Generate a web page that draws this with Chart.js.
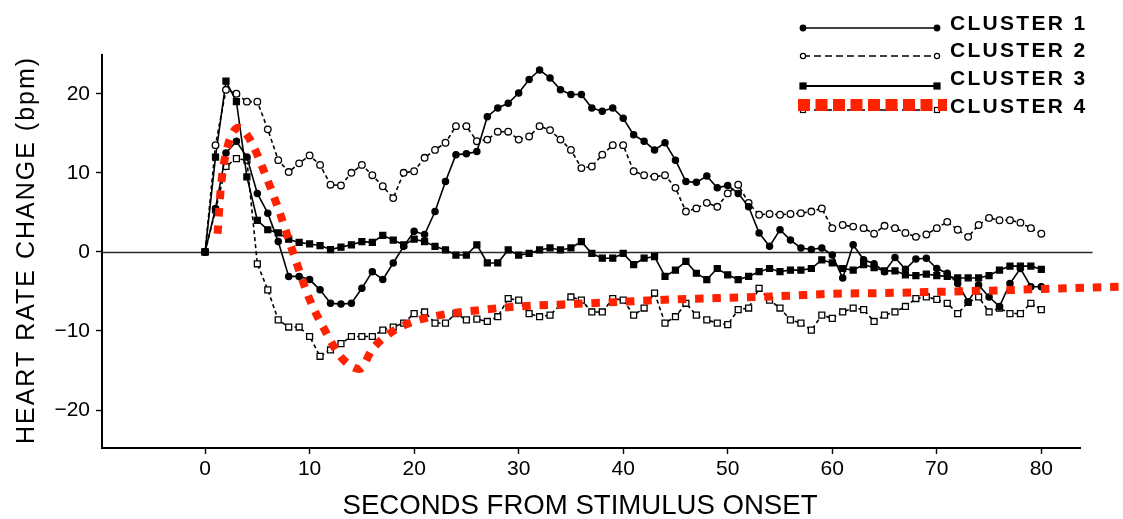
<!DOCTYPE html>
<html>
<head>
<meta charset="utf-8">
<script src="https://cdn.jsdelivr.net/npm/chart.js@4.4.1/dist/chart.umd.min.js"></script>
<style>
  html, body { margin: 0; padding: 0; background: #fff; }
  canvas { display: block; }
</style>
</head>
<body>
<canvas id="hr" width="1123" height="519"></canvas>
<script>
// Seconds after stimulus onset (one sample per second)
const SECONDS = [
  0, 1, 2, 3, 4, 5, 6, 7, 8, 9,
  10, 11, 12, 13, 14, 15, 16, 17, 18, 19,
  20, 21, 22, 23, 24, 25, 26, 27, 28, 29,
  30, 31, 32, 33, 34, 35, 36, 37, 38, 39,
  40, 41, 42, 43, 44, 45, 46, 47, 48, 49,
  50, 51, 52, 53, 54, 55, 56, 57, 58, 59,
  60, 61, 62, 63, 64, 65, 66, 67, 68, 69,
  70, 71, 72, 73, 74, 75, 76, 77, 78, 79,
  80
];

// Heart rate change (bpm) per cluster
const CLUSTER_1 = [
  0, 5.5, 12.5, 14, 12, 7.4, 4.9, 1.3, -3.1, -3.1,
  -3.5, -4.8, -6.5, -6.6, -6.5, -4.6, -2.5, -3.5, -1.4, 0.7,
  2.6, 2.2, 5.1, 8.9, 12.3, 12.4, 12.7, 17.1, 18.2, 18.8,
  20.1, 21.8, 23, 22, 20.5, 19.9, 19.9, 18.2, 17.8, 18.2,
  16.9, 14.8, 14, 12.9, 13.8, 11.6, 8.9, 8.8, 9.6, 8.1,
  8.4, 7.4, 5.7, 2.4, 0.7, 2.8, 1.5, 0.5, 0.3, 0.5,
  -0.4, -3.3, 0.9, -1, -1.5, -2.5, -0.7, -2.2, -0.9, -0.8,
  -2.1, -2.7, -4, -6.3, -4.2, -5.7, -6.9, -4, -2.1, -4.4,
  -4.4
];

const CLUSTER_2 = [
  0, 13.5, 20.5, 20, 19, 19, 15.5, 11.6, 10.1, 11.2,
  12.2, 11, 8.5, 8.4, 10, 11, 9.7, 8.3, 6.8, 10,
  10.2, 11.9, 12.9, 13.8, 15.9, 15.9, 14, 14.2, 15.2, 15.2,
  14.2, 14.6, 15.9, 15.4, 14.2, 12.9, 10.6, 10.8, 12.3, 13.5,
  13.5, 10.2, 9.7, 9.5, 9.7, 8.1, 5.1, 5.5, 6.2, 5.7,
  7.4, 8.5, 6.2, 4.7, 4.8, 4.7, 4.8, 4.9, 5.1, 5.5,
  3, 3.4, 3.2, 3, 2.3, 3.3, 3, 2.4, 1.9, 2.2,
  3, 3.8, 2.8, 1.9, 3.4, 4.3, 4, 4, 3.7, 3,
  2.3
];

const CLUSTER_3 = [
  0, 12, 21.6, 19, 9.5, 4, 2.8, 2.4, 1.6, 1.2,
  1, 0.8, 0.3, 0.6, 0.9, 1.3, 1.2, 2.1, 1.5, 0.9,
  1.6, 1.3, 0.7, 0.25, -0.4, -0.4, 0.9, -1.4, -1.4, 0.25,
  -0.4, -0.2, 0.25, 0.5, 0.25, 0.5, 1.3, -0.2, -0.8, -0.8,
  -0.2, -1.6, -0.8, -0.6, -3.1, -2.3, -1.2, -2.7, -3.5, -2.1,
  -2.9, -3.5, -3.1, -2.5, -2.1, -2.5, -2.3, -2.3, -2.1, -1,
  -1.4, -2.1, -2.3, -1.6, -2, -2.4, -2.4, -2.9, -3, -2.8,
  -3, -3.1, -3.3, -3.3, -3.3, -3, -2.3, -1.8, -1.8, -1.8,
  -2.2
];

const CLUSTER_4 = [
  0, 5.3, 10.8, 11.8, 11.6, -1.5, -4.8, -8.6, -9.5, -9.5,
  -10.7, -13.2, -12.4, -11.6, -10.7, -10.7, -10.7, -9.9, -9.5, -9,
  -7.8, -7.6, -9, -9, -7.8, -8.6, -8.5, -8.8, -8.2, -5.9,
  -6.1, -7.8, -8.2, -8, -6.7, -5.7, -6.1, -7.6, -7.6, -5.9,
  -6.1, -8, -7.1, -5.2, -9, -8.2, -6.5, -8, -8.6, -9,
  -9.2, -7.3, -7.1, -4.6, -6.1, -7.1, -8.6, -9, -9.9, -8,
  -8.4, -7.6, -7.1, -7.3, -8.8, -8, -7.6, -6.9, -5.9, -5.7,
  -6, -6.5, -7.8, -6.4, -5.7, -7.6, -7.1, -7.8, -7.8, -6.5,
  -7.3
];

// Smoothed cluster 4 response (red dotted overlay), runs past the axis end
const TREND_SECONDS = [1.2, 1.5, 2, 3.2, 4.3, 5.7, 7, 8.5, 10, 11.5, 13, 14.8, 16, 18, 20,
  22.5, 26, 30, 35, 40, 45, 50, 55, 60, 65, 70, 75, 80, 88];
const TREND_BPM = [2.3, 8, 12.5, 15.7, 14.2, 10, 5.5, -0.4, -6, -10, -13.3, -14.8, -12.3, -10, -8.8,
  -8, -7.4, -6.9, -6.6, -6.3, -6, -5.8, -5.6, -5.3, -5.2, -5.05, -4.9, -4.7, -4.4];

const X_TICKS = [0, 10, 20, 30, 40, 50, 60, 70, 80];
const Y_TICKS = [-20, -10, 0, 10, 20];
const SERIES_NAMES = ['CLUSTER 1', 'CLUSTER 2', 'CLUSTER 3', 'CLUSTER 4'];
const X_TITLE = 'SECONDS FROM STIMULUS ONSET';
const Y_TITLE = 'HEART RATE CHANGE (bpm)';

const RED = '#ff2200';
const INK = '#000000';
const SANS = '"Liberation Sans", Arial, Helvetica, sans-serif';

const toPoints = (xs, ys) => xs.map((x, i) => ({ x: x, y: ys[i] }));

const markerBase = {
  borderColor: INK,
  borderWidth: 1.6,
  tension: 0,
  pointBorderColor: INK,
  pointBorderWidth: 1.3,
  order: 1
};

const datasets = [
  {
    label: SERIES_NAMES[3] + ' trend',
    data: toPoints(TREND_SECONDS, TREND_BPM),
    borderColor: RED,
    borderWidth: 8,
    borderDash: [8.5, 8.8],
    borderCapStyle: 'butt',
    cubicInterpolationMode: 'monotone',
    pointRadius: 0,
    clip: false,
    order: 0
  },
  Object.assign({}, markerBase, {
    label: SERIES_NAMES[0],
    data: toPoints(SECONDS, CLUSTER_1),
    pointStyle: 'circle',
    pointRadius: 3.1,
    pointBackgroundColor: INK
  }),
  Object.assign({}, markerBase, {
    label: SERIES_NAMES[1],
    data: toPoints(SECONDS, CLUSTER_2),
    borderDash: [4, 3],
    pointStyle: 'circle',
    pointRadius: 3.3,
    pointBackgroundColor: '#ffffff'
  }),
  Object.assign({}, markerBase, {
    label: SERIES_NAMES[2],
    data: toPoints(SECONDS, CLUSTER_3),
    pointStyle: 'rect',
    pointRadius: 4.2,
    pointBackgroundColor: INK
  }),
  Object.assign({}, markerBase, {
    label: SERIES_NAMES[3],
    data: toPoints(SECONDS, CLUSTER_4),
    borderDash: [4, 3],
    pointStyle: 'rect',
    pointRadius: 4.2,
    pointBackgroundColor: '#ffffff'
  })
];

// Horizontal reference line at zero change
const zeroLine = {
  id: 'zeroLine',
  beforeDatasetsDraw(chart) {
    const { ctx, scales } = chart;
    const y0 = Math.round(scales.y.getPixelForValue(0)) + 0.5;
    ctx.save();
    ctx.strokeStyle = '#2a2a2a';
    ctx.lineWidth = 1.3;
    ctx.beginPath();
    ctx.moveTo(chart.chartArea.left, y0);
    ctx.lineTo(scales.x.getPixelForValue(84.9), y0);
    ctx.stroke();
    ctx.restore();
  }
};

// Axis titles
const axisTitles = {
  id: 'axisTitles',
  afterDraw(chart) {
    const { ctx } = chart;
    ctx.save();
    ctx.fillStyle = INK;
    ctx.textAlign = 'center';
    ctx.textBaseline = 'middle';

    ctx.save();
    ctx.translate(27, 250);
    ctx.rotate(-Math.PI / 2);
    ctx.font = '25px ' + SANS;
    ctx.letterSpacing = '2px';
    ctx.fillText(Y_TITLE, 0, 0);
    ctx.restore();

    ctx.save();
    ctx.font = '28px ' + SANS;
    ctx.letterSpacing = '0px';
    const w = ctx.measureText(X_TITLE).width;
    const sx = 475 / w;
    ctx.translate(580, 506);
    ctx.scale(sx, 1);
    ctx.fillText(X_TITLE, 0, 0);
    ctx.restore();

    ctx.restore();
  }
};

// Series key in the upper right corner
const clusterKey = {
  id: 'clusterKey',
  afterDraw(chart) {
    const { ctx } = chart;
    const x0 = 803, x1 = 937;
    const rows = [28, 56, 86, 110];

    const dot = (x, y, r, fill) => {
      ctx.beginPath();
      ctx.arc(x, y, r, 0, Math.PI * 2);
      ctx.fillStyle = fill;
      ctx.fill();
      ctx.lineWidth = 1.2;
      ctx.setLineDash([]);
      ctx.strokeStyle = INK;
      ctx.stroke();
    };
    const box = (x, y, s, fill) => {
      ctx.setLineDash([]);
      ctx.fillStyle = fill;
      ctx.fillRect(x - s / 2, y - s / 2, s, s);
      ctx.lineWidth = 1.2;
      ctx.strokeStyle = INK;
      ctx.strokeRect(x - s / 2, y - s / 2, s, s);
    };
    const seg = (y, w, dash, color) => {
      ctx.beginPath();
      ctx.setLineDash(dash);
      ctx.lineWidth = w;
      ctx.strokeStyle = color;
      ctx.moveTo(x0, y);
      ctx.lineTo(x1, y);
      ctx.stroke();
    };

    ctx.save();
    ctx.lineCap = 'butt';

    seg(rows[0], 1.6, [], INK);
    dot(x0, rows[0], 2.8, INK);
    dot(x1, rows[0], 2.8, INK);

    seg(rows[1], 1.6, [7, 4], INK);
    dot(x0, rows[1], 2.6, '#fff');
    dot(x1, rows[1], 2.6, '#fff');

    seg(rows[2], 1.9, [], INK);
    box(x0, rows[2], 6, INK);
    box(x1, rows[2], 6, INK);

    seg(rows[3], 1.6, [7, 4], INK);
    box(x0, rows[3], 5, '#fff');
    box(x1, rows[3], 5, '#fff');

    ctx.beginPath();
    ctx.setLineDash([12, 5.5]);
    ctx.lineWidth = 12;
    ctx.strokeStyle = RED;
    ctx.moveTo(798, 105);
    ctx.lineTo(947, 105);
    ctx.stroke();

    ctx.setLineDash([]);
    ctx.fillStyle = INK;
    ctx.font = 'bold 21px ' + SANS;
    ctx.letterSpacing = '2.3px';
    ctx.textAlign = 'left';
    ctx.textBaseline = 'alphabetic';
    const baselines = [29.5, 56.5, 85, 112.5];
    SERIES_NAMES.forEach((name, i) => ctx.fillText(name, 950, baselines[i]));
    ctx.restore();
  }
};

new Chart(document.getElementById('hr'), {
  type: 'line',
  data: { datasets: datasets },
  options: {
    responsive: false,
    animation: false,
    events: [],
    layout: { padding: { top: 55, right: 43, bottom: 0, left: 0 } },
    plugins: {
      legend: { display: false },
      tooltip: { enabled: false },
      title: { display: false }
    },
    scales: {
      x: {
        type: 'linear',
        min: -9.86,
        max: 83.7,
        afterBuildTicks: (s) => { s.ticks = X_TICKS.map((v) => ({ value: v })); },
        afterFit: (s) => { s.height = 71; },
        grid: { drawOnChartArea: false, tickLength: 6, tickWidth: 1.4, tickColor: INK },
        border: { color: INK, width: 2 },
        ticks: {
          font: { family: SANS, size: 21 },
          color: INK,
          padding: 3,
          maxRotation: 0,
          autoSkip: false
        }
      },
      y: {
        type: 'linear',
        min: -24.8,
        max: 24.9,
        afterBuildTicks: (s) => { s.ticks = Y_TICKS.map((v) => ({ value: v })); },
        afterFit: (s) => { s.width = 102; },
        grid: { drawOnChartArea: false, tickLength: 6, tickWidth: 1.4, tickColor: INK },
        border: { color: INK, width: 2 },
        ticks: {
          font: { family: SANS, size: 21 },
          color: INK,
          padding: 6,
          autoSkip: false,
          callback: (v) => (v < 0 ? '\u2212' + Math.abs(v) : String(v))
        }
      }
    }
  },
  plugins: [zeroLine, axisTitles, clusterKey]
});
</script>
</body>
</html>
